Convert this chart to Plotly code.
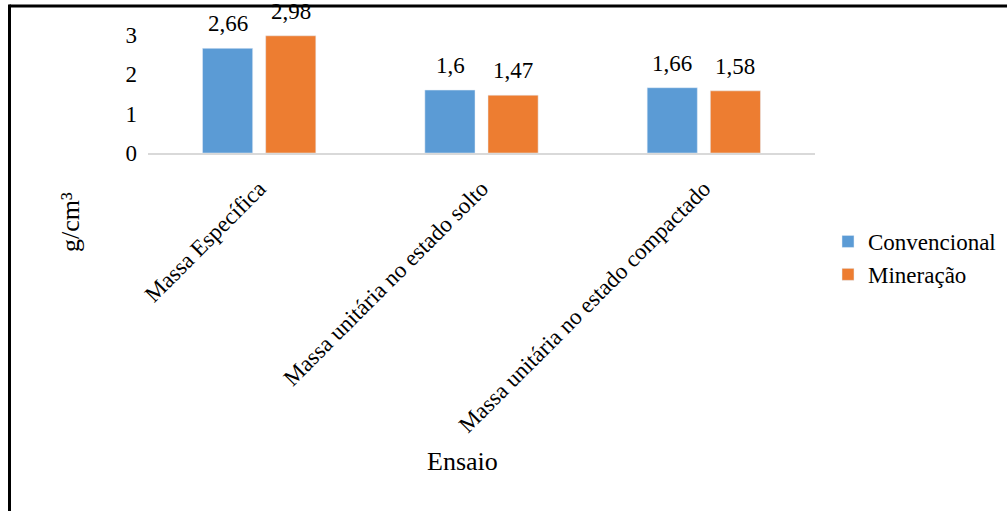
import plotly.graph_objects as go

categories = ["Massa Específica", "Massa unitária no estado solto", "Massa unitária no estado compactado"]
convencional = [2.66, 1.6, 1.66]
mineracao = [2.98, 1.47, 1.58]
conv_labels = ["2,66", "1,6", "1,66"]
min_labels = ["2,98", "1,47", "1,58"]
y_ticks = [0, 1, 2, 3]

FONT = "Liberation Serif"
FS = 23
TFS = 26

fig = go.Figure()
fig.add_trace(go.Bar(name="Convencional", x=categories, y=convencional,
                     marker_color="#5B9BD5", cliponaxis=False))
fig.add_trace(go.Bar(name="Mineração", x=categories, y=mineracao,
                     marker_color="#ED7D31", cliponaxis=False))

L, R, T, B = 148, 1007 - 815, 35, 511 - 153
W, H = 1007 - L - R, 511 - T - B

def px(xp):
    return (xp - L) / W

def py(yp):
    return (511 - B - yp) / H

# data labels above bars, placed at bar values via the axes
for vals, labels, shift in [(convencional, conv_labels, -31.5), (mineracao, min_labels, 31.5)]:
    for c, v, t in zip(categories, vals, labels):
        fig.add_annotation(x=c, y=v, text=t, xref="x", yref="y", showarrow=False,
                           xshift=shift, yshift=10, yanchor="bottom", xanchor="center",
                           font=dict(family=FONT, size=FS, color="black"))

fig.update_layout(
    width=1007, height=511,
    margin=dict(l=L, r=R, t=T, b=B, autoexpand=False),
    paper_bgcolor="white", plot_bgcolor="white",
    barmode="group", bargap=0.432, bargroupgap=0.206,
    font=dict(family=FONT, size=FS, color="black"),
    xaxis=dict(showline=True, linecolor="#D9D9D9", linewidth=2, ticks="",
               tickangle=-45, ticklabelstandoff=11, showgrid=False,
               tickfont=dict(family=FONT, size=FS, color="black")),
    yaxis=dict(range=[0, 3], tickvals=y_ticks, showline=False, showgrid=False,
               zeroline=False, ticks="", ticklabelstandoff=10,
               tickfont=dict(family=FONT, size=FS, color="black")),
    legend=dict(x=px(828), y=py(220), xanchor="left", yanchor="top",
                font=dict(family=FONT, size=FS, color="black"),
                bgcolor="rgba(0,0,0,0)", itemwidth=30, tracegroupgap=0),
    showlegend=True,
)

fig.add_annotation(text="g/cm³", x=px(70), y=py(222), xref="paper", yref="paper",
                   xanchor="center", yanchor="middle",
                   showarrow=False, textangle=-90, font=dict(family=FONT, size=TFS, color="black"))
fig.add_annotation(text="Ensaio", x=px(462), y=py(461), xref="paper", yref="paper",
                   xanchor="center", yanchor="middle",
                   showarrow=False, font=dict(family=FONT, size=TFS, color="black"))

# outer chart border (left and top visible)
fig.add_shape(type="line", xref="paper", yref="paper", x0=px(9.5), x1=px(1012),
              y0=py(6), y1=py(6), line=dict(color="black", width=3))
fig.add_shape(type="line", xref="paper", yref="paper", x0=px(9.5), x1=px(9.5),
              y0=py(4.5), y1=py(520), line=dict(color="black", width=3))

fig.write_html("out.html")
